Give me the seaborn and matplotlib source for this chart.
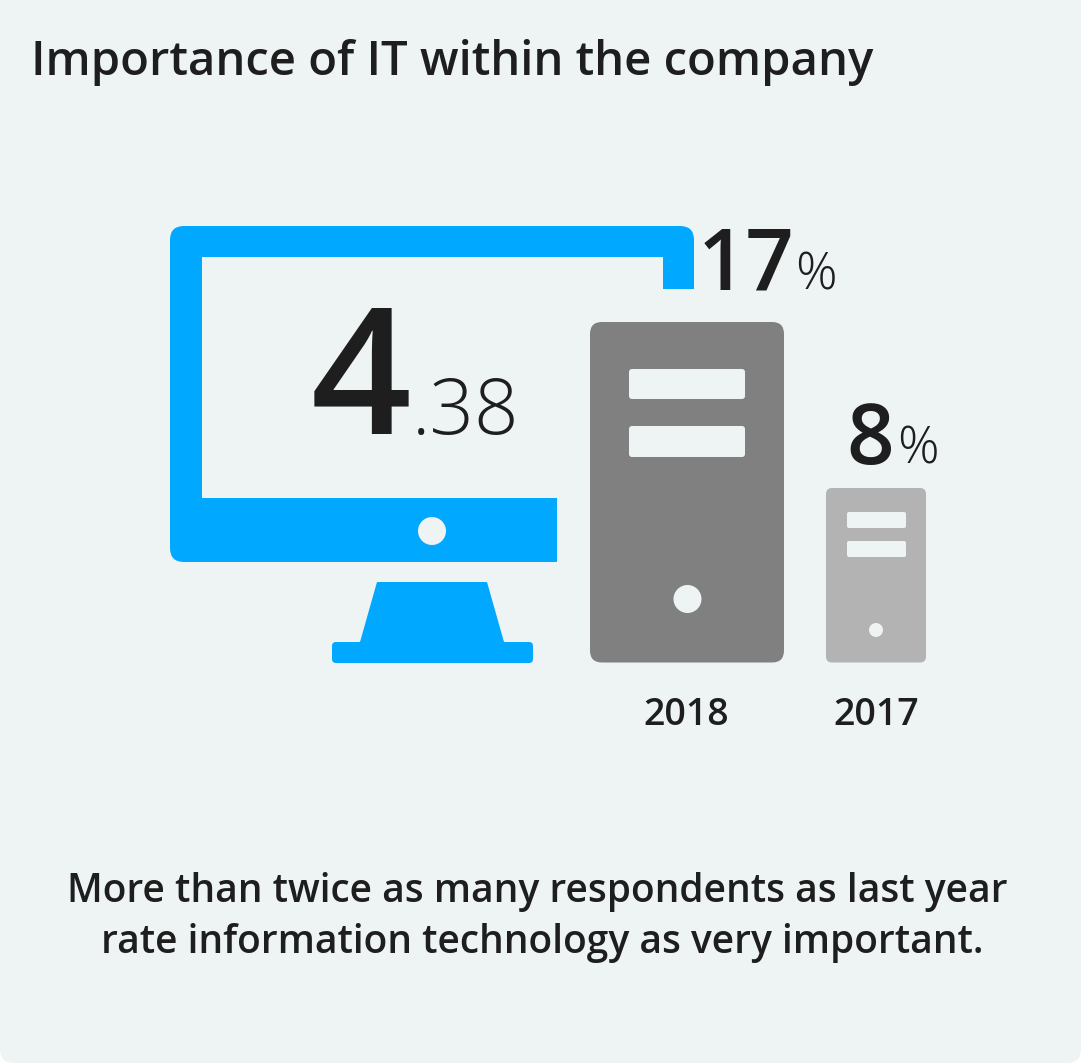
import numpy as np
import pandas as pd
import seaborn as sns
import matplotlib
matplotlib.use("Agg")
import matplotlib.pyplot as plt
from matplotlib.patches import FancyBboxPatch, Rectangle, Circle, Polygon

TITLE = "Importance of IT within the company"
SCORE_WHOLE = "4"
SCORE_FRACTION = ".38"
YEARS = ["2018", "2017"]
SHARES = [17, 8]
CAPTION = ["More than twice as many respondents as last year",
           "rate information technology as very important."]

W, H = 1081, 1063
BG = "#eef4f4"
INK = "#1e1e1e"
BLUE = "#00a8ff"
TOWER = ["#808080", "#b3b3b3"]
FONT = "Open Sans"

sns.set_theme(style="white")
plt.rcParams["font.family"] = [FONT, "DejaVu Sans"]

fig = plt.figure(figsize=(W / 100, H / 100), dpi=100, facecolor="white")
ax = fig.add_axes([0, 0, 1, 1])
ax.set_xlim(0, W)
ax.set_ylim(H, 0)
ax.axis("off")


def rrect(a, x0, y0, x1, y1, r, color, z=2):
    p = FancyBboxPatch((x0 + r, y0 + r), x1 - x0 - 2 * r, y1 - y0 - 2 * r,
                       boxstyle=f"round,pad={r},rounding_size={r}",
                       fc=color, ec="none", zorder=z)
    a.add_patch(p)
    return p


# Panel
rrect(ax, 0, -20, W, H, 14, BG, z=0)

# Monitor: rounded body cut back where the towers overlap it
body = rrect(ax, 170, 226, 694, 562, 14, BLUE, z=1)
cut = Polygon([(160, 216), (704, 216), (704, 289), (663, 289), (663, 498),
               (557, 498), (557, 572), (160, 572)], transform=ax.transData,
              fc="none", ec="none")
ax.add_patch(cut)
body.set_clip_path(cut)
ax.add_patch(Rectangle((202, 257), 461, 241, fc=BG, ec="none", zorder=1.5))
ax.add_patch(Circle((432, 531), 14, fc=BG, ec="none", zorder=4))
ax.add_patch(Polygon([(377, 582), (487, 582), (504, 642), (360, 642)],
                     fc=BLUE, ec="none", zorder=2))
rrect(ax, 332, 642, 533, 663, 4, BLUE)

# Towers: height comes from the share values, on a truncated axis
tax = fig.add_axes([0, 0, 1, 1], facecolor="none")
df = pd.DataFrame({"year": YEARS, "share": SHARES})
sns.barplot(data=df, x="year", y="share", hue="year", palette=TOWER,
            legend=False, ax=tax, width=0.5)
# x: category 0 at 687 px, category 1 at 876 px
tax.set_xlim((0 - 687) / 189, (W - 687) / 189)
# y: share 17 at 322 px, share 8 at 488 px
per_px = (17 - 8) / (488 - 322)
tax.set_ylim(17 - (H - 322) * per_px, 17 + 322 * per_px)
tax.axis("off")
bars = list(tax.patches)
half_w = [97, 50]
radii = [12, 6]
for p, hw, r in zip(bars, half_w, radii):
    cx = p.get_x() + p.get_width() / 2
    top = p.get_height()
    cpx = cx * 189 + 687
    top_px = 322 + (17 - top) / per_px
    color = p.get_facecolor()
    p.set_visible(False)
    rrect(ax, cpx - hw, top_px, cpx + hw, 662.5, r, color, z=2)

# Tower details
rrect(ax, 629, 369, 745, 399, 3, BG, z=3)
rrect(ax, 629, 426, 745, 457, 3, BG, z=3)
ax.add_patch(Circle((687.5, 599), 14, fc=BG, ec="none", zorder=3))
rrect(ax, 847, 512, 906, 528, 2, BG, z=3)
rrect(ax, 847, 541, 906, 557, 2, BG, z=3)
ax.add_patch(Circle((876, 630), 7, fc=BG, ec="none", zorder=3))

# Text
kw = dict(color=INK, zorder=5)
ax.text(31, 75, TITLE, fontsize=34, fontweight=600, va="baseline", ha="left", **kw)
ax.text(411, 434, SCORE_WHOLE, fontsize=127, fontweight=600, va="baseline", ha="right", **kw)
ax.text(412, 434, SCORE_FRACTION, fontsize=56, fontweight=300, va="baseline", ha="left", **kw)
ax.text(794, 289, str(SHARES[0]), fontsize=61, fontweight=600, va="baseline", ha="right", **kw)
ax.text(795, 289, "%", fontsize=37, fontweight=300, va="baseline", ha="left", **kw)
ax.text(894, 464, str(SHARES[1]), fontsize=60, fontweight=600, va="baseline", ha="right", **kw)
ax.text(897, 464, "%", fontsize=37, fontweight=300, va="baseline", ha="left", **kw)
ax.text(686, 725, YEARS[0], fontsize=27, fontweight=600, va="baseline", ha="center", **kw)
ax.text(876, 725, YEARS[1], fontsize=27, fontweight=600, va="baseline", ha="center", **kw)
ax.text(537, 902, CAPTION[0], fontsize=28, fontweight=600, va="baseline", ha="center", **kw)
ax.text(542, 953, CAPTION[1], fontsize=28, fontweight=600, va="baseline", ha="center", **kw)

fig.savefig("out.png", dpi=100, facecolor="white")
